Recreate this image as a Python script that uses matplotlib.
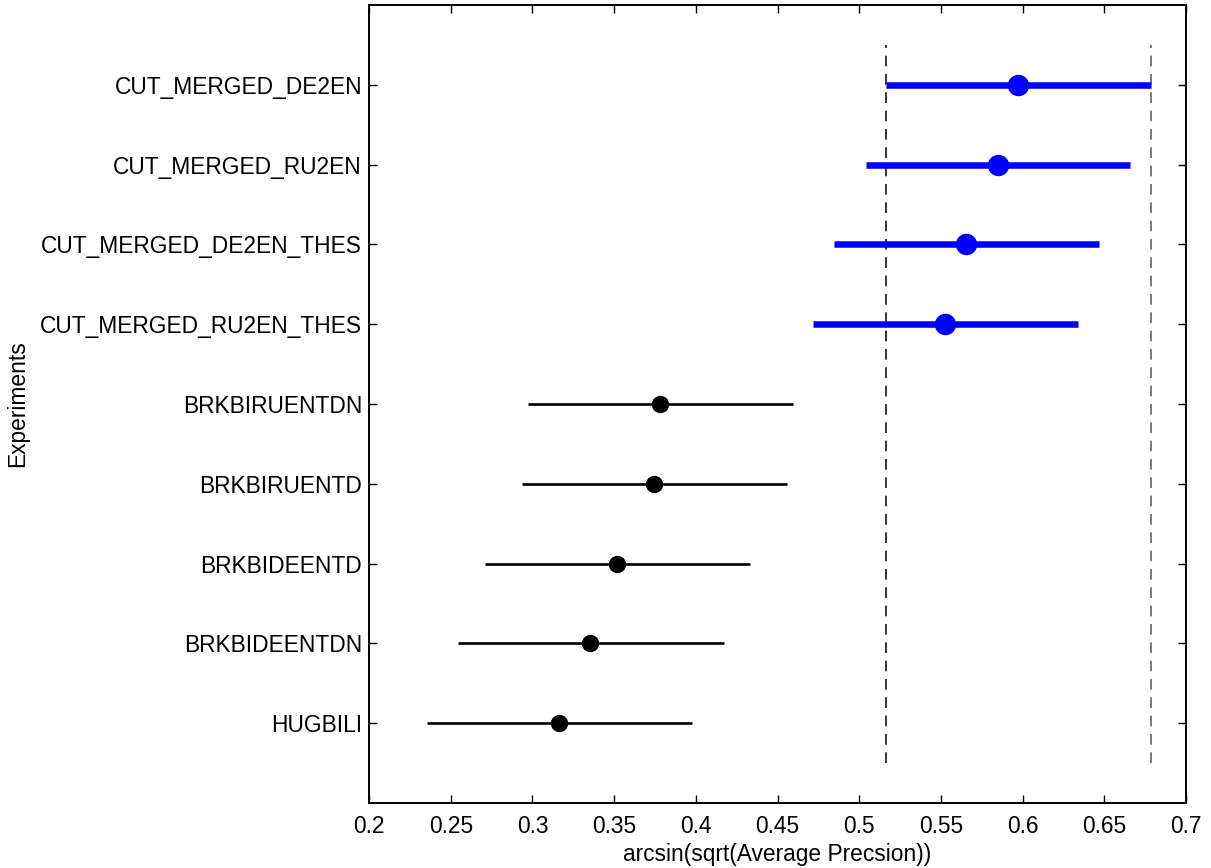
import matplotlib
matplotlib.use("Agg")
import matplotlib.pyplot as plt

plt.rcParams['font.family'] = ['Liberation Sans', 'DejaVu Sans']

groups = ["CUT_MERGED_DE2EN", "CUT_MERGED_RU2EN", "CUT_MERGED_DE2EN_THES",
          "CUT_MERGED_RU2EN_THES", "BRKBIRUENTDN", "BRKBIRUENTD",
          "BRKBIDEENTD", "BRKBIDEENTDN", "HUGBILI"]
means = [0.5972, 0.5850, 0.5654, 0.5525, 0.3781, 0.3744, 0.3518, 0.3352, 0.3163]
lower = [0.5164, 0.5040, 0.4846, 0.4717, 0.2973, 0.2936, 0.2710, 0.2545, 0.2355]
upper = [0.6786, 0.6660, 0.6468, 0.6339, 0.4595, 0.4558, 0.4332, 0.4175, 0.3977]
highlight = [True, True, True, True, False, False, False, False, False]
ref_lo, ref_hi = lower[0], upper[0]

fig = plt.figure(figsize=(12.11, 8.68), dpi=100)
ax = fig.add_axes([369/1211, 65/868, 817/1211, 798/868])

n = len(groups)
ypos = [n - i for i in range(n)]
for y, m, lo, hi, h in zip(ypos, means, lower, upper, highlight):
    if h:
        ax.plot([lo, hi], [y, y], color='#0000ff', lw=4.7, solid_capstyle='butt', zorder=2)
        ax.plot([m], [y], 'o', color='#0000ff', ms=14.4, zorder=3)
    else:
        ax.plot([lo, hi], [y, y], color='black', lw=1.9, solid_capstyle='butt', zorder=2)
        ax.plot([m], [y], 'o', color='black', ms=11.5, zorder=3)

ax.plot([ref_lo, ref_lo], [0.5, n + 0.5], color='black', lw=1.1, dashes=(7, 5), zorder=1)
ax.plot([ref_hi, ref_hi], [0.5, n + 0.5], color='#555555', lw=1.1, dashes=(7, 5), zorder=1)

ax.set_xlim(0.2, 0.7)
ax.set_ylim(0, n + 1)
xt = [0.2, 0.25, 0.3, 0.35, 0.4, 0.45, 0.5, 0.55, 0.6, 0.65, 0.7]
ax.set_xticks(xt)
ax.set_xticklabels([f"{v:g}" for v in xt])
ax.set_yticks(ypos)
ax.set_yticklabels(groups)
ax.tick_params(direction='in', length=5.8, width=1.0, top=True, right=True,
               labelsize=16.4)
ax.tick_params(axis='y', pad=5)
ax.tick_params(axis='x', pad=8.5)
for s in ax.spines.values():
    s.set_linewidth(1.4)
ax.set_xlabel("arcsin(sqrt(Average Precsion))", fontsize=16.4, labelpad=3.5)
ax.set_ylabel("Experiments", fontsize=16.4, labelpad=8)

fig.savefig("out.png", dpi=100)
